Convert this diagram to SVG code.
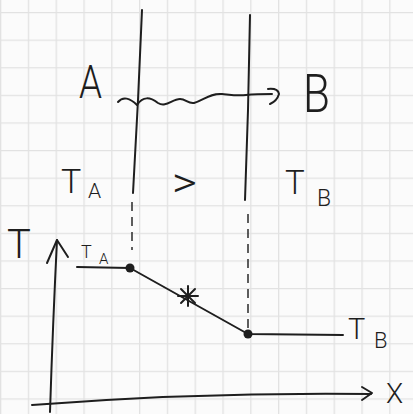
<svg xmlns="http://www.w3.org/2000/svg" width="413" height="414" viewBox="0 0 413 414">
<style>
.ink{fill:none;stroke:#1e1e1e;stroke-width:2;stroke-linecap:round;stroke-linejoin:round}
.dash{fill:none;stroke:#2a2a2a;stroke-width:1.5;stroke-dasharray:9 6}
.lbl{font-family:Roboto,"Liberation Sans",Arial,sans-serif;font-weight:300;fill:#1e1e1e}
.dot{fill:#1e1e1e}
</style>
<defs>
<pattern id="grid" x="0" y="12" width="27.8" height="27.6" patternUnits="userSpaceOnUse">
<path d="M0.5 0V27.6M0 0.5H27.8" stroke="#e2e2e2" stroke-width="1.6" fill="none"/>
</pattern>
</defs>
<rect width="413" height="414" fill="#fbfbfb"/>
<rect width="413" height="414" fill="url(#grid)"/>
<g id="connectors">
<path class="ink" d="M142 10 L138 100 L133 193"/>
<path class="ink" d="M250 15 L248 110 L245 200"/>
<path class="dash" d="M132 202 V250"/>
<path class="dash" d="M248 214 V330"/>
<path class="ink" d="M118 102 C123 96 130 98 137 105 C143 96 150 97 158 103 C166 108 172 99 180 99 C186 99 188 104 194 103 C204 100 210 93 222 94 C232 95 238 96 246 95 C256 94 264 94 272 94"/>
<path class="ink" d="M268 89 Q278 88 279 94 Q277 101 270 104"/>
</g>
<g id="labels-top">
<text class="lbl" x="79" y="98" font-size="46" textLength="23" lengthAdjust="spacingAndGlyphs">A</text>
<text class="lbl" x="303" y="112" font-size="54" textLength="27" lengthAdjust="spacingAndGlyphs">B</text>
<text class="lbl" x="61" y="193" font-size="34">T</text>
<text class="lbl" x="88" y="198" font-size="21">A</text>
<text class="lbl" x="172" y="197" font-size="42" textLength="25" lengthAdjust="spacingAndGlyphs">&gt;</text>
<text class="lbl" x="285" y="194" font-size="33">T</text>
<text class="lbl" x="317" y="206" font-size="23">B</text>
</g>
<g id="axes">
<path class="ink" d="M50 412 Q53 320 57 240"/>
<path class="ink" d="M47 263 L57 240 L68 257"/>
<path class="ink" d="M32 405 Q200 392 371 394"/>
<path class="ink" d="M362 387 L372 393 L362 400"/>
<text class="lbl" x="7" y="258" font-size="40">T</text>
<text class="lbl" x="386" y="403" font-size="28">X</text>
</g>
<g id="profile">
<path class="ink" d="M77 267 L130 268 L248 334 L343 335"/>
<circle class="dot" cx="130" cy="268" r="4.5"/>
<circle class="dot" cx="248" cy="334" r="4.5"/>
<path class="ink" d="M181 289 L195 303 M181 303 L195 289 M188 286 V306 M178 296 H198" stroke-width="1.5"/>
<text class="lbl" x="81" y="258" font-size="18">T</text>
<text class="lbl" x="99" y="264" font-size="15">A</text>
<text class="lbl" x="348" y="339" font-size="29">T</text>
<text class="lbl" x="374" y="348" font-size="22">B</text>
</g>
</svg>
